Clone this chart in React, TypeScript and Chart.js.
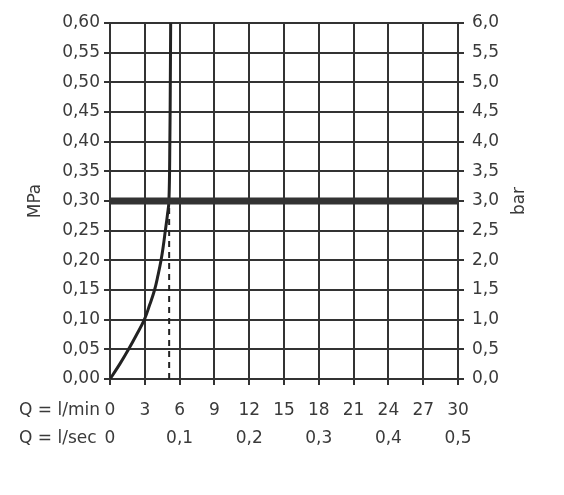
import React, { useEffect, useRef } from "react";
import { Chart, registerables } from "chart.js";

Chart.register(...registerables);

// Flow rate (l/min) and pressure (MPa)
const flowLpm = [0, 0.84, 1.6, 2.3, 2.96, 3.42, 3.84, 4.14, 4.4, 4.6, 4.77, 4.94, 5.08, 5.16, 5.2, 5.23];
const pressureMPa = [0, 0.025, 0.05, 0.075, 0.1, 0.125, 0.15, 0.175, 0.2, 0.225, 0.25, 0.275, 0.3, 0.4, 0.5, 0.6];

// Reference lines
const limitPressureMPa = 0.3;
const operatingFlowLpm = 5.1;

// Axis definitions
const flowTicksLpm = [0, 3, 6, 9, 12, 15, 18, 21, 24, 27, 30];
const flowTicksLsec = [0, 0.1, 0.2, 0.3, 0.4, 0.5];
const mpaMax = 0.6;
const mpaStep = 0.05;
const barMax = 6;
const barStep = 0.5;

const FONT = '"DejaVu Sans", sans-serif';
const FONT_SIZE = 17;
const TEXT = "#3a3a3a";
const INK = "#333333";
const X_TICK_LEN = 6;
const X_TICK_PAD = 12;
const X_LINE_H = 28;

const comma = (v: number, d: number) => v.toFixed(d).replace(".", ",");

const overlay = {
  id: "overlay",
  afterDraw(chart: any) {
    const { ctx, chartArea } = chart;
    const xs = chart.scales.x;
    ctx.save();
    ctx.fillStyle = TEXT;
    ctx.font = `${FONT_SIZE}px ${FONT}`;
    ctx.textAlign = "left";
    ctx.textBaseline = "middle";
    const row1 = xs.top + X_TICK_LEN + X_TICK_PAD + X_LINE_H / 2;
    const px = 19;
    ctx.fillText("Q = l/min", px, row1);
    ctx.fillText("Q = l/sec", px, row1 + X_LINE_H);
    const midY = (chartArea.top + chartArea.bottom) / 2;
    ctx.textAlign = "center";
    ctx.save();
    ctx.translate(36, midY);
    ctx.rotate(-Math.PI / 2);
    ctx.fillText("MPa", 0, 0);
    ctx.restore();
    ctx.save();
    ctx.translate(chartArea.right + 62, midY);
    ctx.rotate(-Math.PI / 2);
    ctx.fillText("bar", 0, 0);
    ctx.restore();
    ctx.restore();
  },
};

export default function App() {
  const ref = useRef<HTMLCanvasElement | null>(null);

  useEffect(() => {
    if (!ref.current) return;
    const curve = flowLpm.map((x, i) => ({ x, y: pressureMPa[i] }));
    const font = { family: FONT, size: FONT_SIZE };
    const chart = new Chart(ref.current, {
      type: "line",
      data: {
        datasets: [
          {
            data: [
              { x: flowTicksLpm[0], y: limitPressureMPa },
              { x: flowTicksLpm[flowTicksLpm.length - 1], y: limitPressureMPa },
            ],
            borderColor: INK,
            borderWidth: 7,
            pointRadius: 0,
          },
          {
            data: [
              { x: operatingFlowLpm, y: 0 },
              { x: operatingFlowLpm, y: limitPressureMPa },
            ],
            borderColor: "#222",
            borderWidth: 2,
            borderDash: [6, 5],
            pointRadius: 0,
          },
          {
            data: curve,
            borderColor: "#222",
            borderWidth: 3,
            pointRadius: 0,
            tension: 0.4,
          },
        ],
      },
      options: {
        animation: false,
        responsive: false,
        layout: { padding: { top: 23 } },
        plugins: { legend: { display: false }, tooltip: { enabled: false } },
        scales: {
          x: {
            type: "linear",
            min: 0,
            max: 30,
            afterBuildTicks: (s: any) => {
              s.ticks = flowTicksLpm.map((v) => ({ value: v }));
            },
            afterFit: (s: any) => {
              s.height = 116;
            },
            ticks: {
              font: { ...font, lineHeight: X_LINE_H / FONT_SIZE },
              color: TEXT,
              padding: X_TICK_PAD,
              maxRotation: 0,
              autoSkip: false,
              callback: (v: any) => {
                const sec = flowTicksLsec.find((s) => Math.abs(s * 60 - v) < 1e-6);
                const secLabel = sec === undefined ? "" : sec === 0 ? "0" : comma(sec, 1);
                return [String(v), secLabel];
              },
            },
            grid: { color: INK, lineWidth: 2, tickLength: X_TICK_LEN, tickColor: INK },
            border: { color: INK, width: 2 },
          },
          y: {
            type: "linear",
            position: "left",
            min: 0,
            max: mpaMax,
            afterFit: (s: any) => {
              s.width = 110;
            },
            ticks: {
              stepSize: mpaStep,
              font,
              color: TEXT,
              padding: 4,
              callback: (v: any) => comma(Number(v), 2),
            },
            grid: { color: INK, lineWidth: 2, tickLength: 6, tickColor: INK },
            border: { color: INK, width: 2 },
          },
          y2: {
            type: "linear",
            position: "right",
            min: 0,
            max: barMax,
            afterFit: (s: any) => {
              s.width = 106;
            },
            ticks: {
              stepSize: barStep,
              font,
              color: TEXT,
              padding: 8,
              callback: (v: any) => comma(Number(v), 1),
            },
            grid: { drawOnChartArea: false, color: INK, lineWidth: 2, tickLength: 6, tickColor: INK },
            border: { color: INK, width: 2 },
          },
        },
      },
      plugins: [overlay],
    } as any);
    return () => chart.destroy();
  }, []);

  return (
    <div style={{ position: "fixed", left: 0, top: 0, width: 564, height: 495, background: "#fff" }}>
      <canvas ref={ref} width={564} height={495} />
    </div>
  );
}
